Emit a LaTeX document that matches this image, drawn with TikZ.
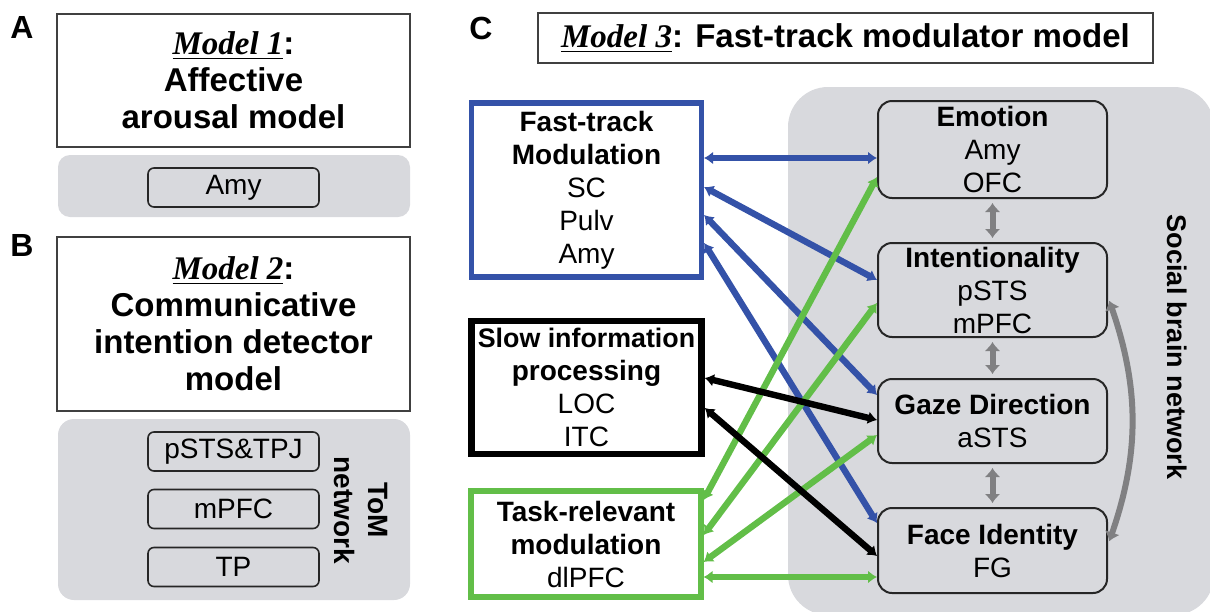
\documentclass[tikz,border=0pt]{standalone}
\usepackage{fontspec}
\setmainfont{Liberation Sans}
\newfontfamily\tnr{Liberation Serif}
\usetikzlibrary{arrows.meta}
\definecolor{panelgray}{RGB}{216,217,221}
\definecolor{ftblue}{RGB}{52,82,168}
\definecolor{trgreen}{RGB}{98,190,72}
\definecolor{arrgray}{RGB}{128,128,130}
\newcommand\mdl[1]{\underline{\tnr\itshape Model #1}:}
\begin{document}
\begin{tikzpicture}[x=0.5pt,y=-0.5pt,>={Latex[length=4.5pt,width=6.5pt]},
  big/.style={font=\fontsize{16.5}{18.5}\selectfont\bfseries,align=center},
  mid/.style={font=\fontsize{14}{16.5}\selectfont,align=center},
  model/.style={draw=black!75,line width=0.9pt,fill=white,big,inner sep=0pt},
  region/.style={draw=black!85,line width=0.8pt,rounded corners=3pt,mid,minimum width=85.5pt,minimum height=19.5pt,inner sep=0pt},
  social/.style={draw=black!85,line width=1pt,rounded corners=7pt,fill=panelgray,mid,minimum width=114.5pt,inner sep=0pt},
  route/.style={line width=2.6pt,mid,minimum width=115pt,fill=white,inner sep=0pt},
  lbl/.style={font=\fontsize{16}{18}\selectfont\bfseries},
  link/.style={<->,line width=3.2pt},
  gr/.style={<->,line width=3pt,arrgray,>={Latex[length=4.5pt,width=8pt]}}]
\useasboundingbox (0,0) rectangle (1210,611);
% A
\node[lbl] (la) at (22,27) {A};
\node[model,minimum width=176.5pt,minimum height=66.5pt] (ma) at (233.5,80.5) {\mdl{1}\\Affective\\arousal model};
\fill[panelgray,rounded corners=6pt] (58,155) rectangle (410,217);
\node[region] (amy) at (233.5,187.5) {Amy};
% B
\node[lbl] (lb) at (22,245) {B};
\node[model,minimum width=176.5pt,minimum height=87pt] (mb) at (233.5,324) {\mdl{2}\\Communicative\\intention detector\\model};
\fill[panelgray,rounded corners=8pt] (58,419) rectangle (410,600);
\node[region] (psts) at (233.5,451.5) {pSTS\&TPJ};
\node[region] (mpfc) at (233.5,509) {mPFC};
\node[region] (tp) at (233.5,567) {TP};
\node[font=\fontsize{14}{17}\selectfont\bfseries,align=center,rotate=-90] (tom) at (360.5,510) {ToM\\network};
% C
\node[lbl] (lc) at (481,28) {C};
\node[model,minimum width=307.5pt,minimum height=25pt] (mc) at (845.5,38) {\mdl{3} Fast-track modulator model};
\fill[panelgray,rounded corners=20pt] (788,87) rectangle (1214,615);
\node[social,minimum height=48.5pt] (emo) at (992.5,149.5) {\textbf{Emotion}\\Amy\\OFC};
\node[social,minimum height=47pt] (int) at (992.5,290) {\textbf{Intentionality}\\pSTS\\mPFC};
\node[social,minimum height=42pt] (gaze) at (992.5,421) {\textbf{Gaze Direction}\\aSTS};
\node[social,minimum height=42.5pt] (face) at (992.5,550.5) {\textbf{Face Identity}\\FG};
\node[font=\fontsize{13.5}{16}\selectfont\bfseries,rotate=-90] (sbn) at (1177,347) {Social brain network};
\node[route,draw=ftblue,minimum height=87pt] (fast) at (586.5,190) {\textbf{Fast-track}\\\textbf{Modulation}\\SC\\Pulv\\Amy};
\node[route,draw=black,line width=3.3pt,minimum height=66.5pt] (slow) at (586.5,387.5) {{\fontsize{13.4}{16.5}\selectfont\bfseries Slow information}\\\textbf{processing}\\LOC\\ITC};
\node[route,draw=trgreen,minimum height=53pt] (task) at (586,544) {\textbf{Task-relevant}\\\textbf{modulation}\\dlPFC};
\draw[link,ftblue] ([yshift=16pt]fast.east) -- ([yshift=-4.25pt]emo.west);
\draw[link,ftblue] ([yshift=1.5pt]fast.east) -- ([yshift=5pt]int.west);
\draw[link,ftblue] ([yshift=-12.5pt]fast.east) -- ([yshift=13pt]gaze.west);
\draw[link,ftblue] ([yshift=-26.5pt]fast.east) -- ([yshift=13.75pt]face.west);
\draw[link,trgreen] ([yshift=22pt]task.east) -- ([yshift=-13.75pt]emo.west);
\draw[link,trgreen] ([yshift=4.5pt]task.east) -- ([yshift=-6.5pt]int.west);
\draw[link,trgreen] ([yshift=-9pt]task.east) -- ([yshift=-7pt]gaze.west);
\draw[link,trgreen] ([yshift=-16.5pt]task.east) -- ([yshift=-13.25pt]face.west);
\draw[link] ([yshift=4.75pt]slow.east) -- ([yshift=0.5pt]gaze.west);
\draw[link] ([yshift=-10.25pt]slow.east) -- ([yshift=-2.75pt]face.west);
\draw[gr,shorten >=2pt,shorten <=2pt] (emo) -- (int);
\draw[gr,shorten >=2pt,shorten <=2pt] (int) -- (gaze);
\draw[gr,shorten >=2pt,shorten <=2pt] (gaze) -- (face);
\draw[gr,shorten >=2pt,shorten <=2pt] ([yshift=-3.5pt]int.east) to[bend left=19] ([yshift=2.75pt]face.east);
\end{tikzpicture}
\end{document}
